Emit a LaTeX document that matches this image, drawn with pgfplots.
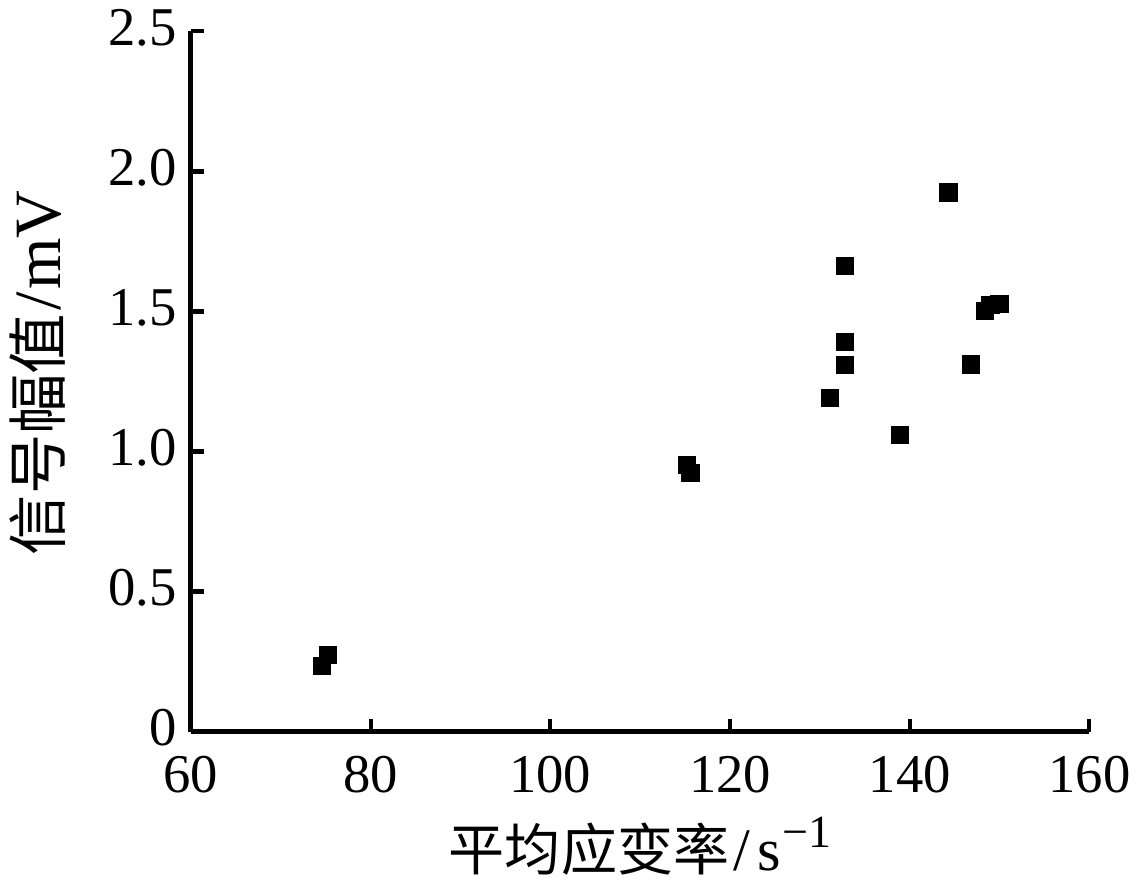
\documentclass[border=0pt]{standalone}
\usepackage{fontspec}
\setmainfont{Liberation Serif}
\newfontfamily\cjk{Noto Sans CJK SC}
\usepackage{pgfplots}
\pgfplotsset{compat=1.18}
\begin{document}
\begin{tikzpicture}
\begin{axis}[
  width=312.6pt, height=243.5pt, scale only axis,
  xmin=60, xmax=160, ymin=0, ymax=2.5,
  axis x line*=bottom, axis y line*=left,
  axis line style={-, line width=1.6pt},
  tick align=inside,
  major tick length=4.5pt,
  tick style={line width=1.4pt, black},
  xtick={60,80,100,120,140,160},
  ytick={0,0.5,1.0,1.5,2.0,2.5},
  yticklabels={0,0.5,1.0,1.5,2.0,2.5},
  /pgf/number format/assume math mode=true,
  ticklabel style={font=\fontsize{19}{22}\selectfont},
  xticklabel style={yshift=-5pt},
  yticklabel style={xshift=-1.5pt, yshift=1.2pt},
  xlabel={{\fontsize{19.5}{22}\selectfont\cjk 平均应变率}\hspace{1.5pt}/\hspace{2.5pt}s\hspace{0.5pt}\raisebox{0.85ex}{\fontsize{16}{16}\selectfont −1}},
  ylabel={{\cjk 信号幅值}{\fontsize{23}{26}\selectfont\hspace{1pt}/\hspace{1pt}mV}},
  xlabel style={font=\fontsize{21}{24}\selectfont, yshift=-1.5pt},
  ylabel style={font=\fontsize{21}{24}\selectfont, yshift=8pt, xshift=3pt},
]
\addplot[only marks, mark=square*, mark size=3pt, black] coordinates {
(74.6,0.233)
(75.3,0.274)
(115.2,0.952)
(115.6,0.923)
(131.1,1.190)
(132.8,1.662)
(132.8,1.390)
(132.8,1.309)
(138.9,1.058)
(144.3,1.925)
(146.8,1.310)
(148.4,1.502)
(149.0,1.524)
(150.0,1.527)
};
\end{axis}
\end{tikzpicture}
\end{document}
